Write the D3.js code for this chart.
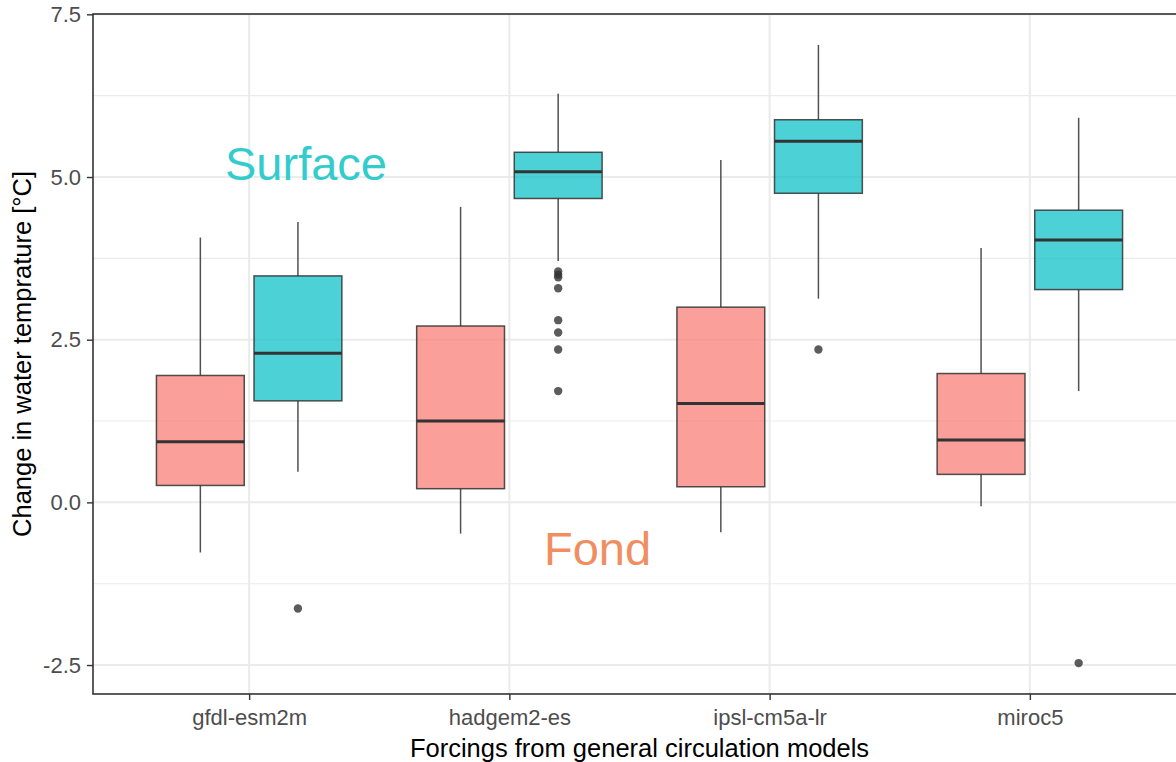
<!DOCTYPE html>
<html>
<head>
<meta charset="utf-8">
<script src="https://cdn.jsdelivr.net/npm/d3@7"></script>
<style>
  body { margin: 0; background: #fff; }
  text { font-family: Arial, 'Liberation Sans', sans-serif; }
</style>
</head>
<body>
<script>
const width = 1176
const height = 762
const margin = { top: 14, right: -10, bottom: 68, left: 93 }

const models = ['gfdl-esm2m', 'hadgem2-es', 'ipsl-cm5a-lr', 'miroc5']
const layers = ['Fond', 'Surface']
const layerColors = ['#F8766D', '#00BFC4']
const labelColors = ['#F08E62', '#33CCCC']

// [lower whisker, q1, median, q3, upper whisker]
const fondStats = [
  [-0.77, 0.26, 0.93, 1.95, 4.07],
  [-0.48, 0.21, 1.25, 2.71, 4.54],
  [-0.46, 0.24, 1.52, 3.00, 5.26],
  [-0.06, 0.43, 0.96, 1.98, 3.91]
]
const surfaceStats = [
  [0.47, 1.56, 2.29, 3.48, 4.31],
  [3.71, 4.67, 5.08, 5.38, 6.28],
  [3.13, 4.75, 5.55, 5.88, 7.03],
  [1.71, 3.27, 4.03, 4.49, 5.91]
]
const fondOutliers = [[], [], [], []]
const surfaceOutliers = [
  [-1.63],
  [3.55, 3.50, 3.46, 3.29, 2.80, 2.61, 2.35, 1.71],
  [2.35],
  [-2.47]
]
const yTicks = [-2.5, 0, 2.5, 5, 7.5]
const yMinor = [-1.25, 1.25, 3.75, 6.25]

const boxes = []
models.forEach(function (m, i) {
  boxes.push({ model: m, layer: 'Fond', s: fondStats[i], out: fondOutliers[i] })
  boxes.push({ model: m, layer: 'Surface', s: surfaceStats[i], out: surfaceOutliers[i] })
})

const all = boxes.flatMap(function (b) { return b.s.concat(b.out) })
const lo = d3.min(all)
const hi = d3.max(all)
const pad = (hi - lo) * 0.05

const x0 = margin.left
const x1 = width - margin.right
const y0 = height - margin.bottom
const y1 = margin.top

const x = d3.scalePoint().domain(models).range([x0, x1]).padding(0.6)
const dodge = d3.scaleBand().domain(layers)
  .range([-0.375 * x.step(), 0.375 * x.step()])
const boxW = dodge.bandwidth() * 0.9
const y = d3.scaleLinear().domain([lo - pad, hi + pad]).range([y0, y1])
const fill = d3.scaleOrdinal().domain(layers).range(layerColors)

const svg = d3.select('body').append('svg')
  .attr('width', width)
  .attr('height', height)

// grid
const grid = svg.append('g')
grid.selectAll('.minor').data(yMinor).enter().append('line')
  .attr('x1', x0).attr('x2', x1)
  .attr('y1', d => y(d)).attr('y2', d => y(d))
  .attr('stroke', '#EBEBEB').attr('stroke-width', 1.1)
grid.selectAll('.major').data(yTicks).enter().append('line')
  .attr('x1', x0).attr('x2', x1)
  .attr('y1', d => y(d)).attr('y2', d => y(d))
  .attr('stroke', '#EBEBEB').attr('stroke-width', 2)
grid.selectAll('.vmajor').data(models).enter().append('line')
  .attr('x1', d => x(d)).attr('x2', d => x(d))
  .attr('y1', y0).attr('y2', y1)
  .attr('stroke', '#EBEBEB').attr('stroke-width', 2)

// boxes
const g = svg.selectAll('.box').data(boxes).enter().append('g')
  .attr('transform', d => 'translate(' + (x(d.model) + dodge(d.layer) + dodge.bandwidth() / 2) + ',0)')

g.append('line')
  .attr('y1', d => y(d.s[0])).attr('y2', d => y(d.s[1]))
  .attr('stroke', '#333').attr('stroke-opacity', 0.85).attr('stroke-width', 1.5)
g.append('line')
  .attr('y1', d => y(d.s[3])).attr('y2', d => y(d.s[4]))
  .attr('stroke', '#333').attr('stroke-opacity', 0.85).attr('stroke-width', 1.5)
g.append('rect')
  .attr('x', -boxW / 2).attr('width', boxW)
  .attr('y', d => y(d.s[3]))
  .attr('height', d => y(d.s[1]) - y(d.s[3]))
  .attr('fill', d => fill(d.layer)).attr('fill-opacity', 0.7)
  .attr('stroke', '#333').attr('stroke-opacity', 0.85).attr('stroke-width', 1.5)
g.append('line')
  .attr('x1', -boxW / 2).attr('x2', boxW / 2)
  .attr('y1', d => y(d.s[2])).attr('y2', d => y(d.s[2]))
  .attr('stroke', '#333').attr('stroke-width', 3)
g.selectAll('circle').data(d => d.out).enter().append('circle')
  .attr('cy', d => y(d)).attr('r', 4.2)
  .attr('fill', '#333').attr('fill-opacity', 0.8)

// panel border
svg.append('rect')
  .attr('x', x0).attr('y', y1)
  .attr('width', x1 - x0).attr('height', y0 - y1)
  .attr('fill', 'none').attr('stroke', '#333').attr('stroke-width', 1.6)

// axes
const yAxis = svg.append('g')
  .attr('transform', 'translate(' + x0 + ',0)')
  .call(d3.axisLeft(y).tickValues(yTicks).tickFormat(d => d.toFixed(1)).tickSize(6).tickPadding(6))
const xAxis = svg.append('g')
  .attr('transform', 'translate(0,' + y0 + ')')
  .call(d3.axisBottom(x).tickSize(6).tickPadding(9))
;[yAxis, xAxis].forEach(function (a) {
  a.select('.domain').remove()
  a.selectAll('line').attr('stroke', '#333').attr('stroke-width', 1.4)
  a.selectAll('text').attr('fill', '#4D4D4D').style('font-size', '22px')
    .style('font-family', "Arial, 'Liberation Sans', sans-serif")
})

// titles
svg.append('text')
  .attr('x', (x0 + x1) / 2).attr('y', 757)
  .attr('text-anchor', 'middle')
  .style('font-size', '25.5px').attr('fill', '#000')
  .text('Forcings from general circulation models')
svg.append('text')
  .attr('transform', 'translate(31,' + (y0 + y1) / 2 + ') rotate(-90)')
  .attr('text-anchor', 'middle')
  .style('font-size', '25.5px').attr('fill', '#000')
  .text('Change in water temprature [°C]')

// layer labels
svg.append('text')
  .attr('x', 225).attr('y', 180)
  .style('font-size', '47px').attr('fill', labelColors[1])
  .text('Surface')
svg.append('text')
  .attr('x', 544).attr('y', 565)
  .style('font-size', '47px').attr('fill', labelColors[0])
  .text('Fond')
</script>
</body>
</html>
